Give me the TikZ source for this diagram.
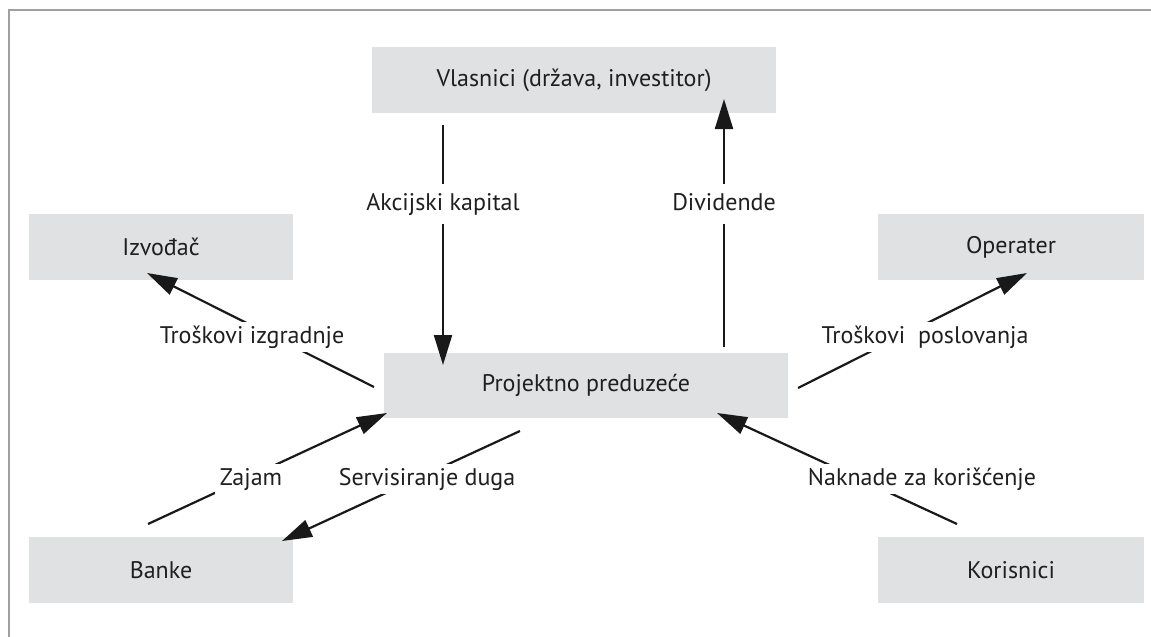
\documentclass[tikz,border=0pt]{standalone}
\usepackage{fontspec}
\setmainfont{PT Sans}
\usepackage{tikz}
\usetikzlibrary{arrows.meta, positioning}
\definecolor{boxgray}{RGB}{224,225,227}
\definecolor{framegray}{RGB}{160,160,160}

\begin{document}
\begin{tikzpicture}
  [
    x=1pt, y=-1pt,
    every node/.style={font=\fontsize{24}{28}\selectfont, text=black!88},
    Box/.style={rectangle, fill=boxgray, minimum width=264pt, minimum height=66pt, inner sep=0pt},
    Wide/.style={Box, minimum width=404pt},
    Flow/.style={-{Triangle[length=30pt, width=18pt]}, line width=2.2pt, draw=black!90},
    Lbl/.style={fill=white, inner xsep=5pt, inner ysep=4pt, text height=17pt, text depth=5pt},
    VLbl/.style={Lbl, inner ysep=9pt}
  ]
  \useasboundingbox (0,0) rectangle (1151,637);
  % Frame
  \draw[framegray, line width=2pt] (1151,10) -- (9,10) -- (9,637);
  % Nodes
  \node[Wide] (vlasnici) at (574, 80) {Vlasnici (država, investitor)};
  \node[Box] (izvodjac) at (161, 247) {Izvođač};
  \node[Box, minimum width=266pt] (operater) at (1011, 247) {Operater};
  \node[Wide, minimum height=65pt] (projekt) at (586, 385) {Projektno preduzeće};
  \node[Box] (banke) at (161, 570) {Banke};
  \node[Box, minimum width=266pt] (korisnici) at (1011, 570) {Korisnici};
  % Arrow ends
  \coordinate (akc-s) at (443, 125);  \coordinate (akc-e) at (443, 365);
  \coordinate (div-s) at (724, 347);  \coordinate (div-e) at (724, 99);
  \coordinate (izg-s) at (374, 387);  \coordinate (izg-e) at (147, 273);
  \coordinate (pos-s) at (798, 388);  \coordinate (pos-e) at (1027, 273);
  \coordinate (zaj-s) at (148, 524);  \coordinate (zaj-e) at (387, 413);
  \coordinate (ser-s) at (520, 431);  \coordinate (ser-e) at (282, 541);
  \coordinate (nak-s) at (957, 524);  \coordinate (nak-e) at (717, 413);
  % Lines
  \path [Flow] (akc-s) -- (akc-e);
  \path [Flow] (div-s) -- (div-e);
  \path [Flow] (izg-s) -- (izg-e);
  \path [Flow] (pos-s) -- (pos-e);
  \path [Flow] (zaj-s) -- (zaj-e);
  \path [Flow] (ser-s) -- (ser-e);
  \path [Flow] (nak-s) -- (nak-e);
  % Labels
  \node[VLbl] (akc) at (443, 204) {Akcijski kapital};
  \node[VLbl] (div) at (724, 204) {Dividende};
  \node[Lbl] (izg) at (252, 337) {Troškovi izgradnje};
  \node[Lbl] (pos) at (925, 337) {Troškovi\ \ poslovanja};
  \node[Lbl] (zaj) at (251, 479) {Zajam};
  \node[Lbl] (ser) at (427, 479) {Servisiranje duga};
  \node[Lbl] (nak) at (922, 479) {Naknade za korišćenje};
\end{tikzpicture}
\end{document}
